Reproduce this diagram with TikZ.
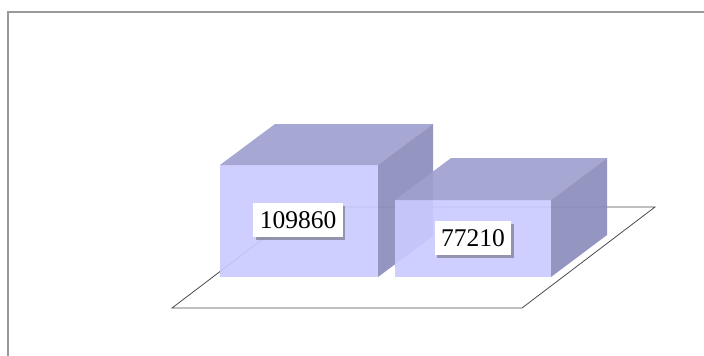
\documentclass[tikz,border=0pt]{standalone}
\usepackage{fontspec}
\setmainfont{Liberation Serif}
\usetikzlibrary{shadows}
\definecolor{frontcol}{RGB}{202,202,255}
\definecolor{topcol}{RGB}{160,160,208}
\definecolor{sidecol}{RGB}{140,140,188}
\tikzset{
  face/.style={fill opacity=0.92, draw=none},
  valuebox/.style={fill=white, inner xsep=6.5pt, inner ysep=8.5pt,
    font=\fontsize{25.5}{27}\selectfont,
    drop shadow={shadow xshift=2.5pt, shadow yshift=-3pt, opacity=0.45, fill=black!70}},
}
% #1 left, #2 right, #3 top, #4 bottom, #5 depth x, #6 depth y
\newcommand{\cuboid}[6]{%
  \fill[face, frontcol] (#1,#3) rectangle (#2,#4);
  \fill[face, topcol] (#1,#3) -- ++(#5,#6) -- ($(#2,#3)+(#5,#6)$) -- (#2,#3) -- cycle;
  \fill[face, sidecol] (#2,#3) -- ++(#5,#6) -- ($(#2,#4)+(#5,#6)$) -- (#2,#4) -- cycle;
}
\usetikzlibrary{calc}

\begin{document}
\begin{tikzpicture}[x=1pt, y=-1pt]
            \useasboundingbox (0,0) rectangle (704,356);
            \fill[white] (0,0) rectangle (704,356);
            \draw[gray!80, line width=1.5pt] (8,12) rectangle (720,370);

            % floor
            \coordinate (F1) at (172,308);
            \coordinate (F2) at (522,308);
            \coordinate (F3) at (655,207);
            \coordinate (F4) at (305,207);
            \draw[black!70, fill=white, line width=0.8pt] (F1) -- (F2) -- (F3) -- (F4) -- cycle;

            % bars
            \cuboid{220}{378}{165}{277}{55}{-41}
            \cuboid{395}{551}{200}{277}{56}{-42}

            \node[valuebox] (v1) at (298,220) {109860};
            \node[valuebox] (v2) at (473,238) {77210};
        \end{tikzpicture}
\end{document}
